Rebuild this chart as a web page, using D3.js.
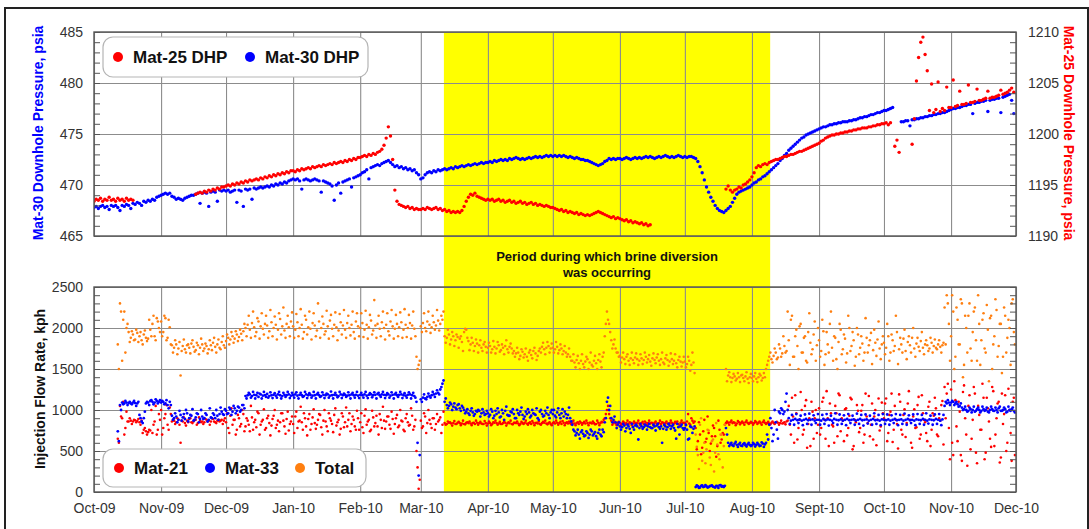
<!DOCTYPE html>
<html><head><meta charset="utf-8">
<script src="https://cdn.jsdelivr.net/npm/d3@7"></script>
<style>body{margin:0;background:#fff}svg{display:block;font-family:"Liberation Sans",Arial,sans-serif}</style>
</head><body><svg id="c" width="1089" height="529"></svg>
<script>
// ---------- DATA ----------
const monthLabels = ["Oct-09","Nov-09","Dec-09","Jan-10","Feb-10","Mar-10","Apr-10","May-10","Jun-10","Jul-10","Aug-10","Sept-10","Oct-10","Nov-10","Dec-10"];
const monthStarts = ["2009-10-01","2009-11-01","2009-12-01","2010-01-01","2010-02-01","2010-03-01","2010-04-01","2010-05-01","2010-06-01","2010-07-01","2010-08-01","2010-09-01","2010-10-01","2010-11-01","2010-12-01"];
const diversionPeriod = ["2010-03-11T16:00","2010-08-09T10:00"];
const pressureTicksLeft = [465,470,475,480,485];
const pressureTicksRight = [1190,1195,1200,1205,1210];
const flowTicks = [0,500,1000,1500,2000,2500];

// daily readings, one inner array per month (index = day of month - 1)
// Mat-30 downhole pressure, psia (left axis)
const mat30 = [
 [467.8,467.9,467.7,467.9,468.0,467.8,467.9,467.6,468.0,467.9,468.0,467.8,467.5,468.0,467.9,468.1,468.0,467.7,468.2,468.1,468.3,468.2,468.0,468.4,468.3,468.5,468.4,468.6,468.5,468.8,468.9],
 [469.0,469.1,469.2,469.1,469.2,468.9,468.8,468.6,468.7,468.6,468.5,468.7,468.8,468.9,469.0,469.0,469.1,469.2,468.2,469.2,469.3,469.2,467.9,469.3,469.4,469.3,468.4,469.5,469.4,469.5],
 [469.4,469.5,469.3,469.4,469.5,468.3,469.5,469.4,467.9,469.6,469.5,469.6,468.6,469.7,469.6,469.7,469.8,469.7,469.8,469.9,469.8,470.0,469.9,470.1,470.0,470.2,470.1,470.3,470.2,470.4,470.5],
 [470.6,470.5,470.6,470.4,469.6,470.5,470.6,470.5,470.4,470.5,470.6,470.5,470.4,469.3,470.4,470.3,470.2,470.1,469.9,468.5,470.0,470.2,469.2,470.3,470.4,470.5,470.6,469.8,470.7,470.8,470.9],
 [471.0,471.2,471.3,471.5,470.6,471.7,471.8,471.9,472.0,471.9,472.1,472.2,472.3,472.4,472.2,472.0,471.8,471.9,471.7,471.8,471.6,471.7,471.5,471.6,471.4,471.5,471.2,471.0],
 [470.6,470.7,471.0,471.2,471.3,471.2,471.4,471.3,471.5,471.4,471.5,471.6,471.5,471.6,471.7,471.6,471.8,471.7,471.8,471.9,471.8,471.9,472.0,471.9,472.0,472.1,472.0,472.1,472.2,472.1,472.2],
 [472.2,472.3,472.2,472.4,472.3,472.4,472.5,472.4,472.5,472.4,472.6,472.5,472.6,472.7,472.6,472.5,472.6,472.5,472.6,472.7,472.6,472.7,472.8,472.7,472.8,472.7,472.8,472.9,472.8,472.9],
 [472.8,472.9,472.8,472.9,472.8,472.9,472.8,472.7,472.8,472.7,472.6,472.7,472.6,472.5,472.5,472.4,472.4,472.3,472.2,472.1,472.0,471.9,472.0,472.1,472.3,472.4,472.6,472.5,472.6,472.5,472.6],
 [472.6,472.5,472.6,472.7,472.6,472.5,472.6,472.7,472.6,472.7,472.6,472.7,472.8,472.7,472.8,472.7,472.6,472.7,472.8,472.7,472.8,472.9,472.8,472.7,472.8,472.7,472.8,472.9,472.8,472.7],
 [472.8,472.7,472.8,472.8,472.7,472.6,472.3,471.8,471.2,470.5,469.8,469.3,468.8,468.4,468.0,467.7,467.5,467.4,467.3,467.5,467.7,467.9,468.3,468.7,469.1,469.3,469.4,469.5,469.6,469.7,469.8],
 [470.0,470.2,470.3,470.5,470.6,470.8,470.9,471.1,471.3,471.5,471.7,471.9,472.1,472.4,472.6,472.9,473.1,473.4,473.6,473.8,474.0,474.2,474.4,474.6,474.7,474.9,475.0,475.1,475.2,475.3,475.4],
 [475.5,475.6,475.7,475.7,475.8,475.9,475.9,476.0,476.0,476.1,476.1,476.2,476.2,476.2,476.3,476.3,476.4,476.4,476.5,476.6,476.6,476.7,476.7,476.8,476.9,476.9,477.0,477.1,477.1,477.2],
 [477.3,477.3,477.4,477.5,477.6,null,null,null,476.2,476.2,476.3,476.3,475.8,476.4,476.4,476.5,476.5,476.6,476.6,476.7,476.7,476.8,476.8,476.9,476.9,477.0,477.0,477.1,477.1,477.2,477.3],
 [477.4,477.5,477.5,477.6,477.6,477.7,477.8,477.8,477.9,477.9,477.0,478.0,478.1,478.1,478.2,478.2,478.3,477.2,478.3,478.4,478.4,478.5,478.5,477.1,478.6,478.7,478.8,478.9,478.3,477.0]
];
// Mat-25 downhole pressure, psia (right axis)
const mat25 = [
 [1193.4,1193.6,1193.5,1193.7,1193.4,1193.6,1193.5,1193.8,1193.5,1193.6,1193.4,1193.7,1193.5,1193.6,1193.4,1193.7,1193.5,1193.6,1193.5,null,null,null,null,null,null,null,null,null,null,null,null],
 [null,null,null,null,null,null,null,null,null,null,null,null,null,null,null,null,1194.1,1194.2,1194.3,1194.2,1194.4,1194.3,1194.5,1194.4,1194.6,1194.5,1194.7,1194.6,1194.8,1194.8],
 [1194.9,1195.0,1194.9,1195.1,1195.0,1195.2,1195.1,1195.3,1195.2,1195.4,1195.3,1195.5,1195.4,1195.5,1195.6,1195.5,1195.7,1195.6,1195.8,1195.7,1195.9,1195.8,1196.0,1195.9,1196.1,1196.0,1196.2,1196.1,1196.3,1196.2,1196.4],
 [1196.4,1196.3,1196.5,1196.4,1196.6,1196.5,1196.6,1196.7,1196.6,1196.8,1196.7,1196.8,1196.9,1196.8,1197.0,1196.9,1197.0,1197.1,1197.0,1197.2,1197.1,1197.2,1197.3,1197.2,1197.4,1197.3,1197.5,1197.4,1197.6,1197.5,1197.7],
 [1197.7,1197.8,1197.9,1197.8,1198.0,1197.9,1198.1,1198.0,1198.2,1198.3,1198.5,1198.9,1199.6,1200.7,1199.8,1197.5,1194.5,1193.4,1193.1,1193.0,1192.9,1192.8,1192.9,1192.7,1192.8,1192.6,1192.7,1192.6],
 [1192.6,1192.7,1192.6,1192.8,1192.7,1192.6,1192.7,1192.8,1192.6,1192.7,1192.5,1192.6,1192.4,1192.5,1192.3,1192.4,1192.3,1192.4,1192.3,1192.5,1192.9,1193.4,1193.8,1194.1,1194.0,1194.2,1193.9,1193.8,1193.7,1193.6,1193.5],
 [1193.6,1193.5,1193.6,1193.4,1193.5,1193.6,1193.4,1193.5,1193.3,1193.4,1193.5,1193.3,1193.4,1193.2,1193.3,1193.4,1193.2,1193.3,1193.1,1193.2,1193.3,1193.1,1193.2,1193.0,1193.1,1193.0,1192.9,1193.0,1192.9,1192.8],
 [1192.8,1192.7,1192.6,1192.5,1192.6,1192.4,1192.5,1192.3,1192.4,1192.3,1192.2,1192.3,1192.1,1192.2,1192.1,1192.0,1192.1,1192.0,1192.1,1192.2,1192.3,1192.4,1192.3,1192.2,1192.1,1192.0,1191.9,1191.8,1191.9,1191.7,1191.8],
 [1191.7,1191.6,1191.5,1191.6,1191.4,1191.5,1191.3,1191.4,1191.3,1191.2,1191.3,1191.1,1191.2,1191.0,1191.1,null,null,null,null,null,null,null,null,null,null,null,null,null,null,null],
 [null,null,null,null,null,null,null,null,null,null,null,null,null,null,null,null,null,null,null,1194.6,1194.9,1194.5,1194.3,1194.5,1194.6,1194.8,1194.7,1195.0,1195.1,1195.3,1195.5],
 [1195.8,1196.2,1196.7,1196.9,1196.8,1197.0,1197.1,1197.0,1197.2,1197.3,1197.4,1197.5,1197.5,1197.6,1197.7,1197.8,1197.8,1197.9,1198.0,1198.0,1198.1,1198.2,1198.3,1198.3,1198.4,1198.5,1198.6,1198.7,1198.8,1198.9,1199.0],
 [1199.1,1199.3,1199.4,1199.6,1199.7,1199.8,1199.9,1199.9,1200.0,1200.0,1200.1,1200.1,1200.2,1200.2,1200.3,1200.3,1200.4,1200.4,1200.5,1200.5,1200.6,1200.6,1200.6,1200.7,1200.7,1200.8,1200.8,1200.9,1200.9,1201.0],
 [1201.0,1201.1,1200.9,1201.1,null,1198.8,1199.4,1198.2,null,null,null,null,null,1199.0,1201.5,1205.2,1207.5,1209.0,1209.5,1207.8,1206.2,1202.3,1204.9,1202.1,1202.4,1205.1,1202.2,1202.5,1202.3,1204.6,1202.6],
 [1202.6,1205.3,1202.7,1202.8,1204.2,1202.9,1202.9,1203.0,1204.8,1203.1,1203.1,1203.2,1204.4,1203.3,1203.3,1203.4,1203.5,1204.2,1203.5,1203.6,1203.6,1203.7,1203.8,1204.3,1203.9,1204.0,1204.1,1204.3,1204.5,1204.1]
];
// Injection flow rate, kph — morning (AM) and afternoon (PM) readings
const mat21 = [
 [null,null,null,null,null,null,null,null,null,null,null,650,1050,900,700,980,860,870,860,875,865,850,870,760,740,730,750,720,860,700,950],
 [1000,780,950,820,1030,860,870,850,880,600,860,840,870,890,850,860,880,840,870,860,850,880,870,860,890,850,870,860,880,870],
 [850,780,930,820,880,760,900,830,950,800,870,740,910,850,790,960,820,880,760,900,840,810,930,780,870,850,960,800,890,750,860],
 [830,920,780,870,850,960,800,890,760,910,840,820,950,790,870,860,740,900,830,940,810,880,770,920,850,800,960,830,880,760,900],
 [850,790,930,820,880,760,910,840,800,950,780,870,860,920,770,890,830,940,810,870,760,900,850,820,930,800,500,40],
 [870,800,920,840,880,780,900,830,860,910,820,840,830,845,835,840,830,845,840,835,830,845,840,835,840,830,845,840,835,830,840],
 [835,840,830,845,840,835,830,840,845,835,840,830,845,840,835,830,840,845,835,840,830,845,840,835,830,840,845,835,840,830],
 [840,835,845,840,830,845,840,835,840,845,835,840,830,845,840,835,840,845,835,840,830,845,840,850,900,1000,950,870,840,835,845],
 [840,835,845,840,830,845,835,840,845,835,840,830,845,840,835,840,845,835,840,830,845,840,835,840,845,835,840,830,845,840],
 [840,860,835,900,845,780,620,700,540,880,650,720,590,810,680,560,760,640,700,840,845,850,840,845,835,850,845,840,850,845,840],
 [845,840,850,845,840,850,845,840,835,845,840,850,845,840,835,850,860,1050,700,920,1180,640,880,1000,760,1120,830,560,980,900,720],
 [1020,780,1150,650,900,1080,820,600,960,1200,740,870,1010,690,930,1130,560,850,990,780,1060,700,920,1170,820,640,1000,880,750,1090],
 [900,1140,720,980,610,1050,830,1190,760,940,670,1080,880,540,1010,790,1160,700,960,850,620,1100,760,930,1020,680,870,1110,1280,1200,780],
 [1250,450,1120,620,980,380,1300,700,1050,520,880,1200,350,940,760,1150,480,1020,650,1280,560,900,1100,420,830,1180,600,1000,380,1150]
];
const mat21PM = [
 [null,null,null,null,null,null,null,null,null,null,null,600,920,1100,780,860,900,830,880,850,890,820,720,780,700,760,1000,820,1050,760,880],
 [700,900,1060,760,950,880,830,900,820,870,910,810,850,900,840,880,820,910,850,830,890,860,820,900,860,840,880,870,830,900],
 [960,720,1020,880,700,940,800,1000,740,900,820,1050,760,880,980,700,860,1010,780,930,690,890,1000,820,740,960,870,710,980,830,920],
 [720,980,860,1040,760,900,690,950,830,1010,770,880,940,700,1000,800,960,870,730,1020,850,700,960,790,1030,880,740,920,800,990,760],
 [960,720,1010,860,740,990,800,930,700,880,1040,770,920,820,980,710,900,790,1000,860,740,950,810,1020,760,880,300,150],
 [780,960,720,1000,830,900,760,950,880,720,980,820,860,850,810,865,830,855,815,870,825,850,860,815,845,870,820,855,830,865,810],
 [860,815,850,870,820,855,830,865,810,850,870,825,845,860,815,855,830,870,820,850,865,815,845,860,820,855,870,825,850,815],
 [850,870,820,855,865,815,850,860,825,870,815,850,860,820,855,870,815,845,860,825,870,815,855,880,950,1050,900,820,860,815,855],
 [815,860,825,870,850,815,860,830,870,815,855,860,820,870,845,815,860,825,870,850,815,860,830,870,815,855,860,820,870,845],
 [815,950,820,870,860,520,850,460,740,610,920,500,680,780,430,870,600,720,820,860,820,870,850,815,865,825,860,820,870,830,855],
 [820,865,830,860,820,870,830,855,825,860,830,855,820,870,840,825,870,820,1150,600,960,780,1220,700,1050,540,900,1100,650,1000,820],
 [700,1100,880,1230,560,960,800,1050,680,1180,900,620,1020,780,1150,520,880,1060,730,990,600,1200,840,680,1080,920,570,1140,800,960],
 [1080,620,940,1200,760,880,530,1100,700,1010,840,1230,600,920,780,1060,650,1180,880,720,1040,560,960,1150,700,900,1060,580,900,1320,400],
 [600,1350,800,1100,450,1220,900,320,1180,650,1280,480,1050,760,1320,400,1150,860,550,1230,700,1080,360,1200,950,500,1260,720,1100,450]
];
const mat33 = [
 [null,null,null,null,null,null,null,null,null,null,null,740,1060,1090,1080,1090,1085,1080,1090,1085,1080,940,860,900,1080,1090,1110,1100,1090,1110,1100],
 [1090,1100,1080,1060,1100,930,900,920,880,940,910,890,960,900,930,870,910,950,890,920,900,940,880,910,960,900,930,950,980,940],
 [990,960,1010,980,1020,990,1030,1000,1060,1170,1180,1190,1170,1185,1180,1160,1190,1175,1180,1195,1170,1180,1185,1175,1190,1180,1170,1185,1180,1190,1175],
 [1180,1190,1175,1185,1180,1170,1190,1180,1185,1175,1180,1190,1180,1170,1185,1180,1190,1175,1180,1185,1180,1170,1190,1180,1185,1175,1180,1190,1180,1185,1175],
 [1185,1180,1190,1175,1185,1190,1180,1185,1195,1180,1190,1185,1180,1190,1175,1185,1190,1180,1185,1190,1180,1175,1185,1190,1180,1170,1100,200],
 [1130,1150,1140,1160,1170,1180,1190,1200,1210,1250,1320,1100,1060,1050,1070,1040,1030,1060,1020,1050,1000,980,960,990,970,950,980,990,960,970,950],
 [960,940,980,930,950,970,920,960,990,940,930,970,950,900,960,980,940,920,950,970,930,960,940,900,980,950,930,960,940,970],
 [950,930,970,940,960,920,950,940,900,820,740,720,700,730,710,690,720,700,740,710,680,720,700,760,850,1100,1000,900,880,850,820],
 [800,790,810,780,800,720,790,810,800,780,800,790,810,800,790,780,800,810,790,800,770,800,790,810,800,780,650,790,800,780],
 [780,760,650,790,770,60,70,55,80,65,70,60,75,65,55,70,80,65,60,780,600,580,570,590,575,580,565,585,570,580,575],
 [570,585,575,580,565,590,580,700,820,780,700,850,650,960,1000,980,1200,900,870,880,890,875,885,870,880,890,875,880,885,870,880],
 [880,870,890,875,885,880,870,890,880,875,885,870,880,890,875,880,885,870,880,890,875,880,885,870,880,890,875,880,870,885],
 [880,875,885,870,880,890,875,880,885,870,880,890,875,880,870,885,880,875,890,880,870,885,880,875,890,880,870,885,1050,1080,1090],
 [1090,1100,1080,1070,1050,1030,1010,1000,990,1010,1000,980,1010,1000,990,1010,1000,980,1000,1010,990,1000,1020,990,1000,1010,980,1000,1010,990]
];
const mat33PM = [
 [null,null,null,null,null,null,null,null,null,null,null,620,1000,1070,1110,1060,1100,1070,1110,1050,1100,900,840,980,1100,1060,1120,1070,1130,1080,1120],
 [1110,1070,1120,1020,1060,880,960,850,990,870,950,1000,860,940,1010,880,960,850,1000,890,960,860,1020,900,940,1000,880,1030,950,1010],
 [950,1030,940,1050,960,1040,980,1060,1020,1140,1210,1150,1220,1140,1210,1200,1140,1220,1160,1150,1215,1145,1205,1150,1220,1140,1210,1160,1220,1145,1210],
 [1150,1215,1140,1210,1160,1220,1145,1205,1150,1220,1140,1210,1160,1215,1145,1200,1150,1225,1140,1210,1155,1220,1145,1200,1160,1215,1140,1210,1150,1220,1145],
 [1210,1150,1220,1145,1205,1155,1215,1140,1210,1160,1220,1145,1205,1150,1215,1140,1210,1160,1220,1145,1205,1150,1215,1140,1210,1150,600,450],
 [1100,1190,1130,1200,1150,1220,1160,1240,1190,1280,1360,1140,1020,1090,1000,1080,1010,1070,990,1030,960,1010,940,1020,930,990,1000,920,1010,940,990],
 [920,1010,900,990,1020,910,1000,880,1040,930,980,1010,900,1000,940,1030,890,980,1010,910,1000,950,1020,880,1000,920,990,1030,900,1000],
 [1000,910,1020,900,1010,980,900,1030,860,760,690,760,650,750,680,740,660,760,690,730,650,760,680,730,900,1150,1050,850,920,780,850],
 [760,830,740,820,770,830,760,820,640,830,770,820,760,830,780,820,750,830,770,600,820,760,830,770,820,750,830,700,820,760],
 [820,640,800,720,800,80,50,75,60,85,55,70,80,60,75,50,85,70,75,700,560,600,560,610,550,600,560,595,555,600,560],
 [600,555,600,560,605,550,600,640,900,620,1000,760,980,1020,950,1100,1000,830,940,820,950,840,930,815,945,830,955,820,935,840,950],
 [820,940,830,950,810,930,840,960,820,945,830,935,815,950,840,930,820,955,830,940,810,945,835,930,820,960,830,940,815,950],
 [830,945,820,935,840,950,815,940,830,955,820,935,840,945,815,950,830,940,820,960,835,930,820,945,830,950,815,940,1100,1120,1060],
 [1110,1060,1100,1040,1080,1000,1040,980,1030,970,1040,990,1030,970,1040,990,1030,970,1040,990,1030,970,1040,990,1030,970,1040,990,1030,970]
];
const totalFlow = [
 [null,null,null,null,null,null,null,null,null,null,null,1800,2300,1600,2200,2000,1950,1880,1920,1860,1940,1900,1850,1920,1880,1870,1980,2050,1900,2120,2000],
 [2080,1950,2120,1880,2010,1790,1760,1800,1750,1420,1780,1740,1790,1760,1810,1770,1730,1790,1760,1800,1750,1780,1740,1790,1820,1770,1800,1760,1830,1790],
 [1840,1880,1860,1900,1870,1920,1890,1930,1960,2000,2040,1980,2060,2010,1950,2080,2020,1990,2050,2030,1960,2070,2000,2040,1980,2110,2020,1970,2050,2010,2080],
 [2020,1980,2070,2000,2040,1950,2100,2010,1990,2060,2030,1970,2080,2000,2050,1960,2020,2090,1990,2040,2010,1970,2070,2030,1980,2060,2000,2040,1950,2080,2020],
 [2000,2060,1980,2040,2010,2090,1970,2030,2050,1990,2070,2000,2040,1960,2080,2020,1990,2050,2010,2070,1980,2040,2000,2060,2030,1990,1650,1550],
 [2020,2060,2000,2080,2040,2010,2070,2030,2090,2050,2100,1900,1880,1920,1860,1900,1850,1890,1870,1830,1950,1980,1840,1800,1820,1780,1810,1790,1760,1800,1770],
 [1760,1780,1740,1770,1750,1790,1730,1760,1780,1740,1770,1750,1720,1690,1700,1660,1710,1680,1650,1700,1670,1720,1690,1660,1750,1770,1740,1760,1780,1750],
 [1760,1740,1770,1730,1750,1720,1700,1680,1650,1600,1580,1610,1570,1600,1560,1590,1620,1580,1550,1600,1570,1610,1590,1650,1900,2200,2050,1850,1800,1750,1700],
 [1660,1640,1620,1650,1600,1630,1610,1640,1620,1600,1630,1610,1650,1620,1590,1630,1610,1640,1600,1620,1580,1630,1610,1590,1620,1600,1570,1610,1590,1580],
 [1590,1560,1600,1550,1580,700,450,820,380,600,520,750,330,640,480,580,400,700,560,1500,1420,1400,1390,1410,1380,1400,1420,1390,1410,1380,1400],
 [1390,1410,1380,1400,1420,1390,1400,1550,1650,1620,1660,1700,1640,1750,1690,1780,1720,1850,2100,1650,1900,1780,2020,1700,1880,1600,1950,1820,1740,2080,1790],
 [1850,1720,1960,1680,1800,2050,1760,1900,1620,1830,1980,1740,1870,1690,2000,1780,1850,1650,1920,1760,1810,1700,1880,1790,1940,1730,1820,1860,1750,1800],
 [1820,1760,1900,1700,1850,1780,1950,1740,1800,1870,1720,1830,1790,1880,1750,1810,1770,1840,1760,1800,1790,1750,1820,1780,1760,1800,1770,1790,2250,2400,2050],
 [1900,2200,1650,2100,1800,2300,1550,2000,2150,1750,1950,2250,1600,2050,1850,2180,1700,1980,2120,1500,1900,2220,1780,2050,1650,2150,1880,2000,2300,1950]
];
const totalFlowPM = [
 [null,null,null,null,null,null,null,null,null,null,null,1500,2200,2100,1700,2050,1830,1960,1850,1980,1830,1950,1800,1970,1840,2100,1900,2150,1850,2080,1950],
 [1900,2150,1850,2100,1800,1700,1850,1680,1830,1720,1860,1700,1800,1690,1850,1710,1820,1680,1870,1720,1810,1690,1850,1730,1880,1700,1860,1740,1900,1760],
 [1920,1800,1950,1820,1960,1840,1980,1850,2050,1900,2150,1880,2200,1900,2120,1870,2180,1920,2150,1880,2220,1900,2140,1860,2180,1920,2250,1880,2150,1900,2190],
 [1880,2170,1900,2230,1870,2150,1920,2200,1860,2180,1900,2300,1880,2140,1920,2210,1870,2160,1900,2190,1850,2170,1920,2220,1880,2150,1910,2200,1870,2180,1900],
 [2180,1890,2210,1870,2160,1920,2340,1880,2150,1900,2200,1860,2180,1910,2220,1870,2160,1900,2190,1880,2230,1890,2160,1870,2200,1900,1500,1600],
 [1950,2180,1960,2200,1940,2150,1980,2220,1970,2150,2200,1820,1980,1800,1950,1780,1920,1760,1900,1720,1990,1880,1730,1880,1720,1860,1700,1850,1720,1830,1700],
 [1820,1700,1840,1690,1830,1710,1800,1680,1850,1700,1810,1690,1650,1760,1620,1740,1640,1750,1600,1730,1630,1760,1610,1720,1700,1820,1680,1830,1700,1810],
 [1700,1830,1690,1800,1680,1780,1650,1750,1600,1680,1520,1660,1500,1680,1520,1650,1500,1700,1530,1660,1500,1680,1520,1700,2050,2100,1950,1750,1860,1700,1650],
 [1580,1700,1560,1680,1550,1700,1570,1690,1550,1680,1560,1700,1580,1670,1540,1690,1570,1680,1550,1700,1560,1670,1540,1690,1560,1680,1520,1650,1530,1650],
 [1520,1650,1480,1700,1450,550,280,900,480,350,760,420,620,250,840,460,700,300,820,1350,1460,1340,1440,1360,1450,1340,1430,1350,1460,1330,1440],
 [1350,1450,1340,1440,1360,1450,1500,1600,1700,1580,1750,1620,1800,1650,1900,1700,2200,1550,2150,1650,1980,1500,2050,1700,1900,1580,2180,1680,1920,1600,2000],
 [1650,2100,1550,1950,1700,2200,1600,1880,1500,2050,1680,1920,1580,2150,1720,1950,1540,2000,1680,1900,1600,2120,1700,1850,1560,1980,1660,2080,1620,1900],
 [1680,2050,1600,1920,1720,2150,1560,1880,1700,1980,1620,1900,1700,2000,1650,1880,1720,1950,1680,1850,1720,1880,1700,1860,1740,1850,1700,1820,1800,2300,1600],
 [2400,1500,2250,1800,2350,1400,2150,1700,2300,1600,2200,1850,2400,1550,2100,1750,2280,1350,2150,1800,2350,1650,2050,1450,2250,1700,2100,1550,2350,1800]
];

// ---------- CHART ----------
const svg = d3.select("#c");
const parse = d3.timeParse("%Y-%m-%d");
const parseT = d3.timeParse("%Y-%m-%dT%H:%M");
const monthDates = monthStarts.map(parse);
const x = d3.scaleTime().domain([monthDates[0], monthDates[monthDates.length-1]]).range([94,1016]);
const yTop = d3.scaleLinear().domain([465,485]).range([236,32]);
const yTopR = d3.scaleLinear().domain([1190,1210]).range([236,32]);
const yBot = d3.scaleLinear().domain([0,2500]).range([492,287]);
const TOP={y0:32,y1:236}, BOT={y0:287,y1:492}, XL=94, XR=1016;

function flatten(monthly, hourOffset){
  const out=[];
  monthly.forEach((arr,m)=>{const s=d3.timeHour.offset(monthDates[m],hourOffset||0);arr.forEach((v,i)=>{if(v!=null)out.push({date:d3.timeDay.offset(s,i),v});});});
  return out;
}

// outer frame
svg.append("rect").attr("x",5).attr("y",8).attr("width",1083).attr("height",540)
  .attr("fill","none").attr("stroke","#222").attr("stroke-width",2);

// diversion shading
const d0=parseT(diversionPeriod[0]), d1=parseT(diversionPeriod[1]);
svg.append("rect").attr("x",x(d0)).attr("y",TOP.y0).attr("width",x(d1)-x(d0)).attr("height",BOT.y1-TOP.y0).attr("fill","#ffff00");

function grid(y, ticks, p){
  const g=svg.append("g");
  g.append("g").attr("transform",`translate(0,${p.y1})`)
   .call(d3.axisBottom(x).tickValues(monthDates).tickSize(-(p.y1-p.y0)).tickFormat(""));
  g.append("g").attr("transform",`translate(${XL},0)`)
   .call(d3.axisLeft(y).tickValues(ticks).tickSize(-(XR-XL)).tickFormat(""));
  g.selectAll(".domain").remove();
  g.selectAll("line").attr("stroke","#8c8c8c").attr("stroke-width",1.1);
}
grid(yTop, pressureTicksLeft, TOP);
grid(yBot, flowTicks, BOT);

// clip paths
const defs=svg.append("defs");
defs.append("clipPath").attr("id","clipTop").append("rect").attr("x",XL).attr("y",TOP.y0).attr("width",XR-XL).attr("height",TOP.y1-TOP.y0);
defs.append("clipPath").attr("id","clipBot").append("rect").attr("x",XL).attr("y",BOT.y0).attr("width",XR-XL).attr("height",BOT.y1-BOT.y0);

function dots(data, y, color, clip, r){
  svg.append("g").attr("clip-path",`url(#${clip})`).selectAll("circle").data(data).join("circle")
    .attr("cx",d=>x(d.date)).attr("cy",d=>y(d.v)).attr("r",r).attr("fill",color);
}
dots(flatten(mat30), yTop, "#0000ff", "clipTop", 1.7);
dots(flatten(mat25), yTopR, "#ff0000", "clipTop", 1.7);
dots(flatten(mat21), yBot, "#ff0000", "clipBot", 1.3);
dots(flatten(mat21PM,12), yBot, "#ff0000", "clipBot", 1.3);
dots(flatten(mat33), yBot, "#0000ff", "clipBot", 1.4);
dots(flatten(mat33PM,12), yBot, "#0000ff", "clipBot", 1.4);
dots(flatten(totalFlow), yBot, "#ff7f10", "clipBot", 1.3);
dots(flatten(totalFlowPM,12), yBot, "#ff7f10", "clipBot", 1.3);

// plot frames
[TOP,BOT].forEach(p=>svg.append("rect").attr("x",XL).attr("y",p.y0).attr("width",XR-XL).attr("height",p.y1-p.y0)
  .attr("fill","none").attr("stroke","#555").attr("stroke-width",1.4));

// axes
const fmt=d3.format("d");
function styleAxis(g){g.select(".domain").remove();g.selectAll("text").attr("font-size",14).attr("fill","#333").attr("font-family","'Liberation Sans',Arial,sans-serif");g.selectAll("line").attr("stroke","#555");}
svg.append("g").attr("transform",`translate(${XL},0)`).call(d3.axisRight(yTop).tickValues(d3.range(465,486,1)).tickSize(6).tickFormat("")).call(styleAxis);
svg.append("g").attr("transform",`translate(${XR},0)`).call(d3.axisLeft(yTopR).tickValues(d3.range(1190,1211,1)).tickSize(6).tickFormat("")).call(styleAxis);
svg.append("g").attr("transform",`translate(${XL},0)`).call(d3.axisRight(yBot).tickValues(d3.range(0,2501,100)).tickSize(6).tickFormat("")).call(styleAxis);
svg.append("g").attr("transform",`translate(${XR},0)`).call(d3.axisLeft(yBot).tickValues(d3.range(0,2501,100)).tickSize(6).tickFormat("")).call(styleAxis);
svg.append("g").attr("transform",`translate(${XL},0)`).call(d3.axisLeft(yTop).tickValues(pressureTicksLeft).tickSize(0).tickPadding(11).tickFormat(fmt)).call(styleAxis);
svg.append("g").attr("transform",`translate(${XR},0)`).call(d3.axisRight(yTopR).tickValues(pressureTicksRight).tickSize(0).tickPadding(12).tickFormat(fmt)).call(styleAxis);
svg.append("g").attr("transform",`translate(${XL},0)`).call(d3.axisLeft(yBot).tickValues(flowTicks).tickSize(0).tickPadding(11).tickFormat(fmt)).call(styleAxis);
svg.append("g").attr("transform",`translate(0,${BOT.y1})`).call(d3.axisBottom(x).tickValues(monthDates).tickSize(0).tickPadding(11).tickFormat((d,i)=>monthLabels[i])).call(styleAxis);

// axis titles
function title(txt,tx,ty,rot,color){
  svg.append("text").attr("transform",`translate(${tx},${ty}) rotate(${rot})`).attr("text-anchor","middle").attr("dy","0.35em")
   .attr("font-size",14).attr("font-weight","bold").attr("fill",color).text(txt);
}
title("Mat-30 Downhole Pressure, psia",38,133,-90,"#0000ff");
title("Mat-25 Downhole Pressure, psia",1069,133,90,"#ff0000");
title("Injection Flow Rate, kph",40,389,-90,"#111");

// annotation
const ann=svg.append("text").attr("text-anchor","middle").attr("font-size",13).attr("font-weight","bold").attr("fill","#111");
ann.append("tspan").attr("x",607).attr("y",261).text("Period during which brine diversion");
ann.append("tspan").attr("x",607).attr("y",277).text("was occurring");

// legends
function legend(x0,y0,w,h,items){
  const g=svg.append("g");
  g.append("rect").attr("x",x0).attr("y",y0).attr("width",w).attr("height",h).attr("rx",10)
    .attr("fill","#fff").attr("stroke","#b5b5b5").attr("stroke-width",1.2);
  const cy=y0+h/2;
  items.forEach(it=>{
    g.append("circle").attr("cx",it.x).attr("cy",cy).attr("r",5).attr("fill",it.color);
    g.append("text").attr("x",it.x+15).attr("y",cy).attr("dy","0.36em").attr("font-size",17).attr("font-weight","bold").attr("fill","#111").text(it.label);
  });
}
legend(103,37,265,40,[{x:118,color:"#ff0000",label:"Mat-25 DHP"},{x:250,color:"#0000ff",label:"Mat-30 DHP"}]);
legend(103,449,263,38,[{x:119,color:"#ff0000",label:"Mat-21"},{x:210,color:"#0000ff",label:"Mat-33"},{x:300,color:"#ff7f10",label:"Total"}]);
</script></body></html>
